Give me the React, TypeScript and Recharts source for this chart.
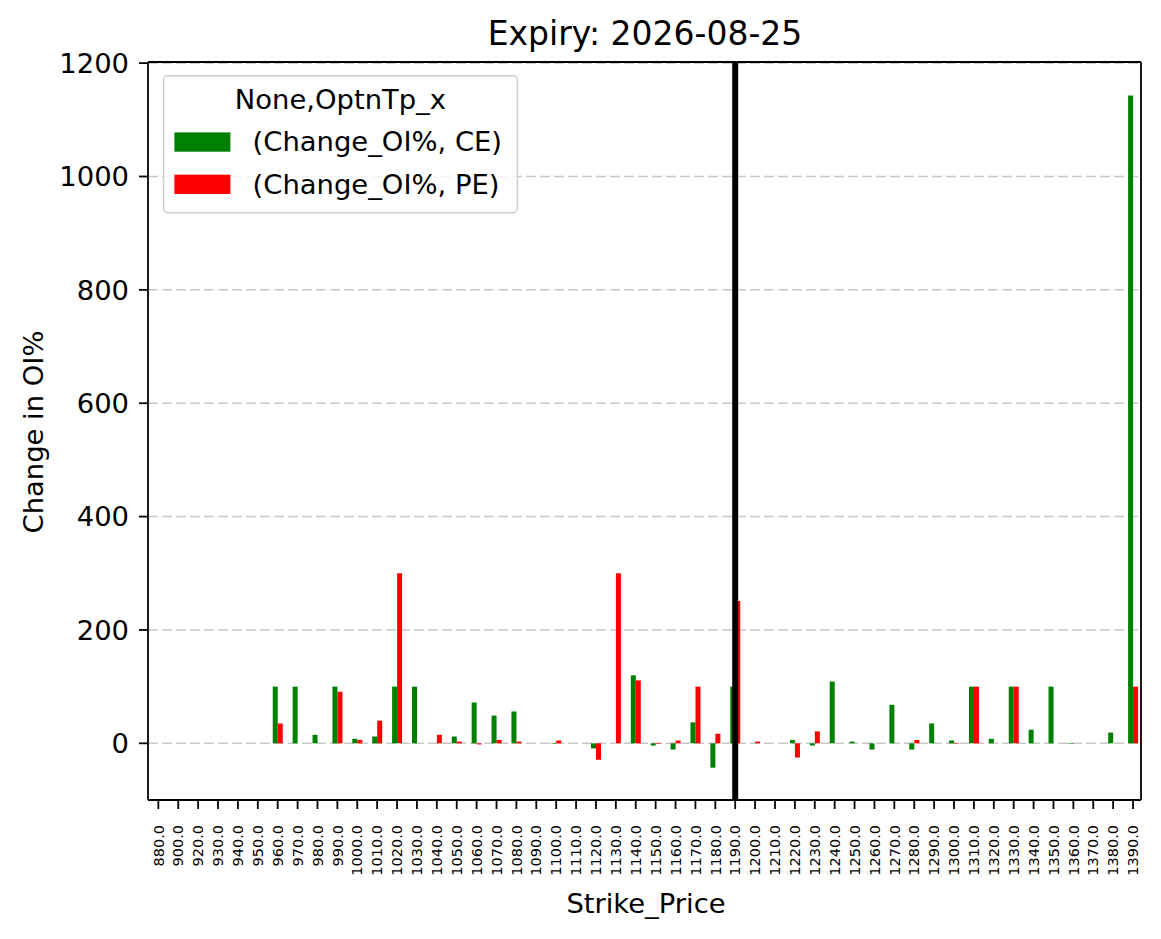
import { BarChart, Bar, XAxis, YAxis, CartesianGrid, ReferenceLine, Legend } from 'recharts';

const strikes = [
  880, 900, 920, 930, 940, 950, 960, 970, 980, 990,
  1000, 1010, 1020, 1030, 1040, 1050, 1060, 1070, 1080, 1090,
  1100, 1110, 1120, 1130, 1140, 1150, 1160, 1170, 1180, 1190,
  1200, 1210, 1220, 1230, 1240, 1250, 1260, 1270, 1280, 1290,
  1300, 1310, 1320, 1330, 1340, 1350, 1360, 1370, 1380, 1390,
];
const ceChange = [
  0, 0, 0, 0, 0, 0, 100, 100, 15, 100,
  8, 12, 100, 100, 0, 12, 72, 49, 56, 0,
  -1, 0, -9, 0, 120, -4, -11, 37, -43, 100,
  0, 0, 6, -4, 109, 3, -11, 68, -11, 35,
  5, 100, 8, 100, 24, 100, -1, 0, 19, 1143,
];
const peChange = [
  0, 0, 0, 0, 0, 0, 35, 0, 0, 91,
  6, 40, 300, 0, 15, 3, -2, 6, 3, 0,
  5, 0, -29, 300, 111, -1, 5, 100, 17, 251,
  3, 0, -25, 21, 0, 0, 0, 0, 6, 0,
  -1, 100, 0, 100, 0, 0, 0, 0, 0, 100,
];
const strikeLabels = strikes.map((s) => s.toFixed(1));
const yTicks = [0, 200, 400, 600, 800, 1000, 1200];
const spotStrike = 1190;

const chartData = strikes.map((s, i) => ({ idx: i, strike: s, ce: ceChange[i], pe: peChange[i] }));
const xTicks = strikes.map((_, i) => i);
const spotIdx = strikes.indexOf(spotStrike);

const FONT = '"DejaVu Sans", sans-serif';
const LABEL_SIZE = 27.4;
const X_DOMAIN: [number, number] = [-0.52, 49.4];
const Y_DOMAIN: [number, number] = [-100, 1202];

function StrikeTick({ x, y, payload }: any) {
  const px = x + 5.2;
  return (
    <text
      x={px}
      y={y}
      transform={`rotate(-90 ${px} ${y})`}
      textAnchor="end"
      fontSize={14.5}
      fontFamily={FONT}
      fill="#000"
    >
      {strikeLabels[payload.value]}
    </text>
  );
}

function OptionLegend({ payload }: any) {
  const items = payload && payload.length ? payload : [
    { value: '(Change_OI%, CE)', color: '#008000' },
    { value: '(Change_OI%, PE)', color: '#ff0000' },
  ];
  return (
    <svg width={356} height={140} style={{ display: 'block' }}>
      <rect x={0.7} y={0.7} width={353.7} height={137} rx={4} fill="#fff" fillOpacity={0.8} stroke="#cccccc" strokeWidth={1.4} />
      <text x={177.4} y={34} textAnchor="middle" fontSize={LABEL_SIZE} fontFamily={FONT} fill="#000">
        None,OptnTp_x
      </text>
      {items.map((entry: any, i: number) => (
        <g key={i}>
          <rect x={11.4} y={57.4 + i * 42.3} width={56} height={19.3} fill={entry.color} />
          <text x={89.6} y={76.4 + i * 42.3} fontSize={LABEL_SIZE} fontFamily={FONT} fill="#000">
            {entry.value}
          </text>
        </g>
      ))}
    </svg>
  );
}

export default function App() {
  return (
    <div style={{ position: 'absolute', left: 0, top: 0, width: 1161, height: 939, background: '#fff' }}>
      <BarChart
        width={1161}
        height={939}
        data={chartData}
        margin={{ top: 62, right: 20, left: 48, bottom: 39 }}
        barGap={0}
      >
        <CartesianGrid
          vertical={false}
          stroke="#c8c8c8"
          strokeWidth={1.5}
          strokeDasharray="10 4"
        />
        <XAxis
          dataKey="idx"
          type="number"
          domain={X_DOMAIN}
          allowDataOverflow
          ticks={xTicks}
          interval={0}
          height={100}
          tickSize={9}
          tickMargin={16}
          tick={<StrikeTick />}
          axisLine={{ stroke: '#000', strokeWidth: 1.8 }}
          tickLine={{ stroke: '#000', strokeWidth: 1.8 }}
        />
        <YAxis
          type="number"
          domain={Y_DOMAIN}
          allowDataOverflow
          ticks={yTicks}
          interval={0}
          width={100}
          tickSize={9}
          tickMargin={10}
          tick={{ fill: '#000', fontSize: LABEL_SIZE, fontFamily: FONT }}
          axisLine={{ stroke: '#000', strokeWidth: 1.8 }}
          tickLine={{ stroke: '#000', strokeWidth: 1.8 }}
        />
        <Legend
          layout="vertical"
          align="center"
          verticalAlign="middle"
          content={<OptionLegend />}
          wrapperStyle={{ left: 162.6, top: 75.3, width: 356, height: 140 }}
        />
        <Bar dataKey="ce" name="(Change_OI%, CE)" fill="#008000" barSize={5} isAnimationActive={false} />
        <Bar dataKey="pe" name="(Change_OI%, PE)" fill="#ff0000" barSize={5} isAnimationActive={false} />
        <ReferenceLine x={spotIdx} stroke="#000" strokeWidth={6} ifOverflow="visible" />
        <ReferenceLine y={Y_DOMAIN[1]} stroke="#000" strokeWidth={1.8} ifOverflow="visible" />
        <ReferenceLine x={X_DOMAIN[1]} stroke="#000" strokeWidth={1.8} ifOverflow="visible" />
      </BarChart>
      <svg
        width={1161}
        height={939}
        style={{ position: 'absolute', left: 0, top: 0, pointerEvents: 'none' }}
      >
        <text x={645} y={45} textAnchor="middle" fontSize={33} fontFamily={FONT} fill="#000">
          Expiry: 2026-08-25
        </text>
        <text x={646} y={913} textAnchor="middle" fontSize={LABEL_SIZE} fontFamily={FONT} fill="#000">
          Strike_Price
        </text>
        <text
          x={43}
          y={432}
          transform="rotate(-90 43 432)"
          textAnchor="middle"
          fontSize={LABEL_SIZE}
          fontFamily={FONT}
          fill="#000"
        >
          Change in OI%
        </text>
      </svg>
    </div>
  );
}
